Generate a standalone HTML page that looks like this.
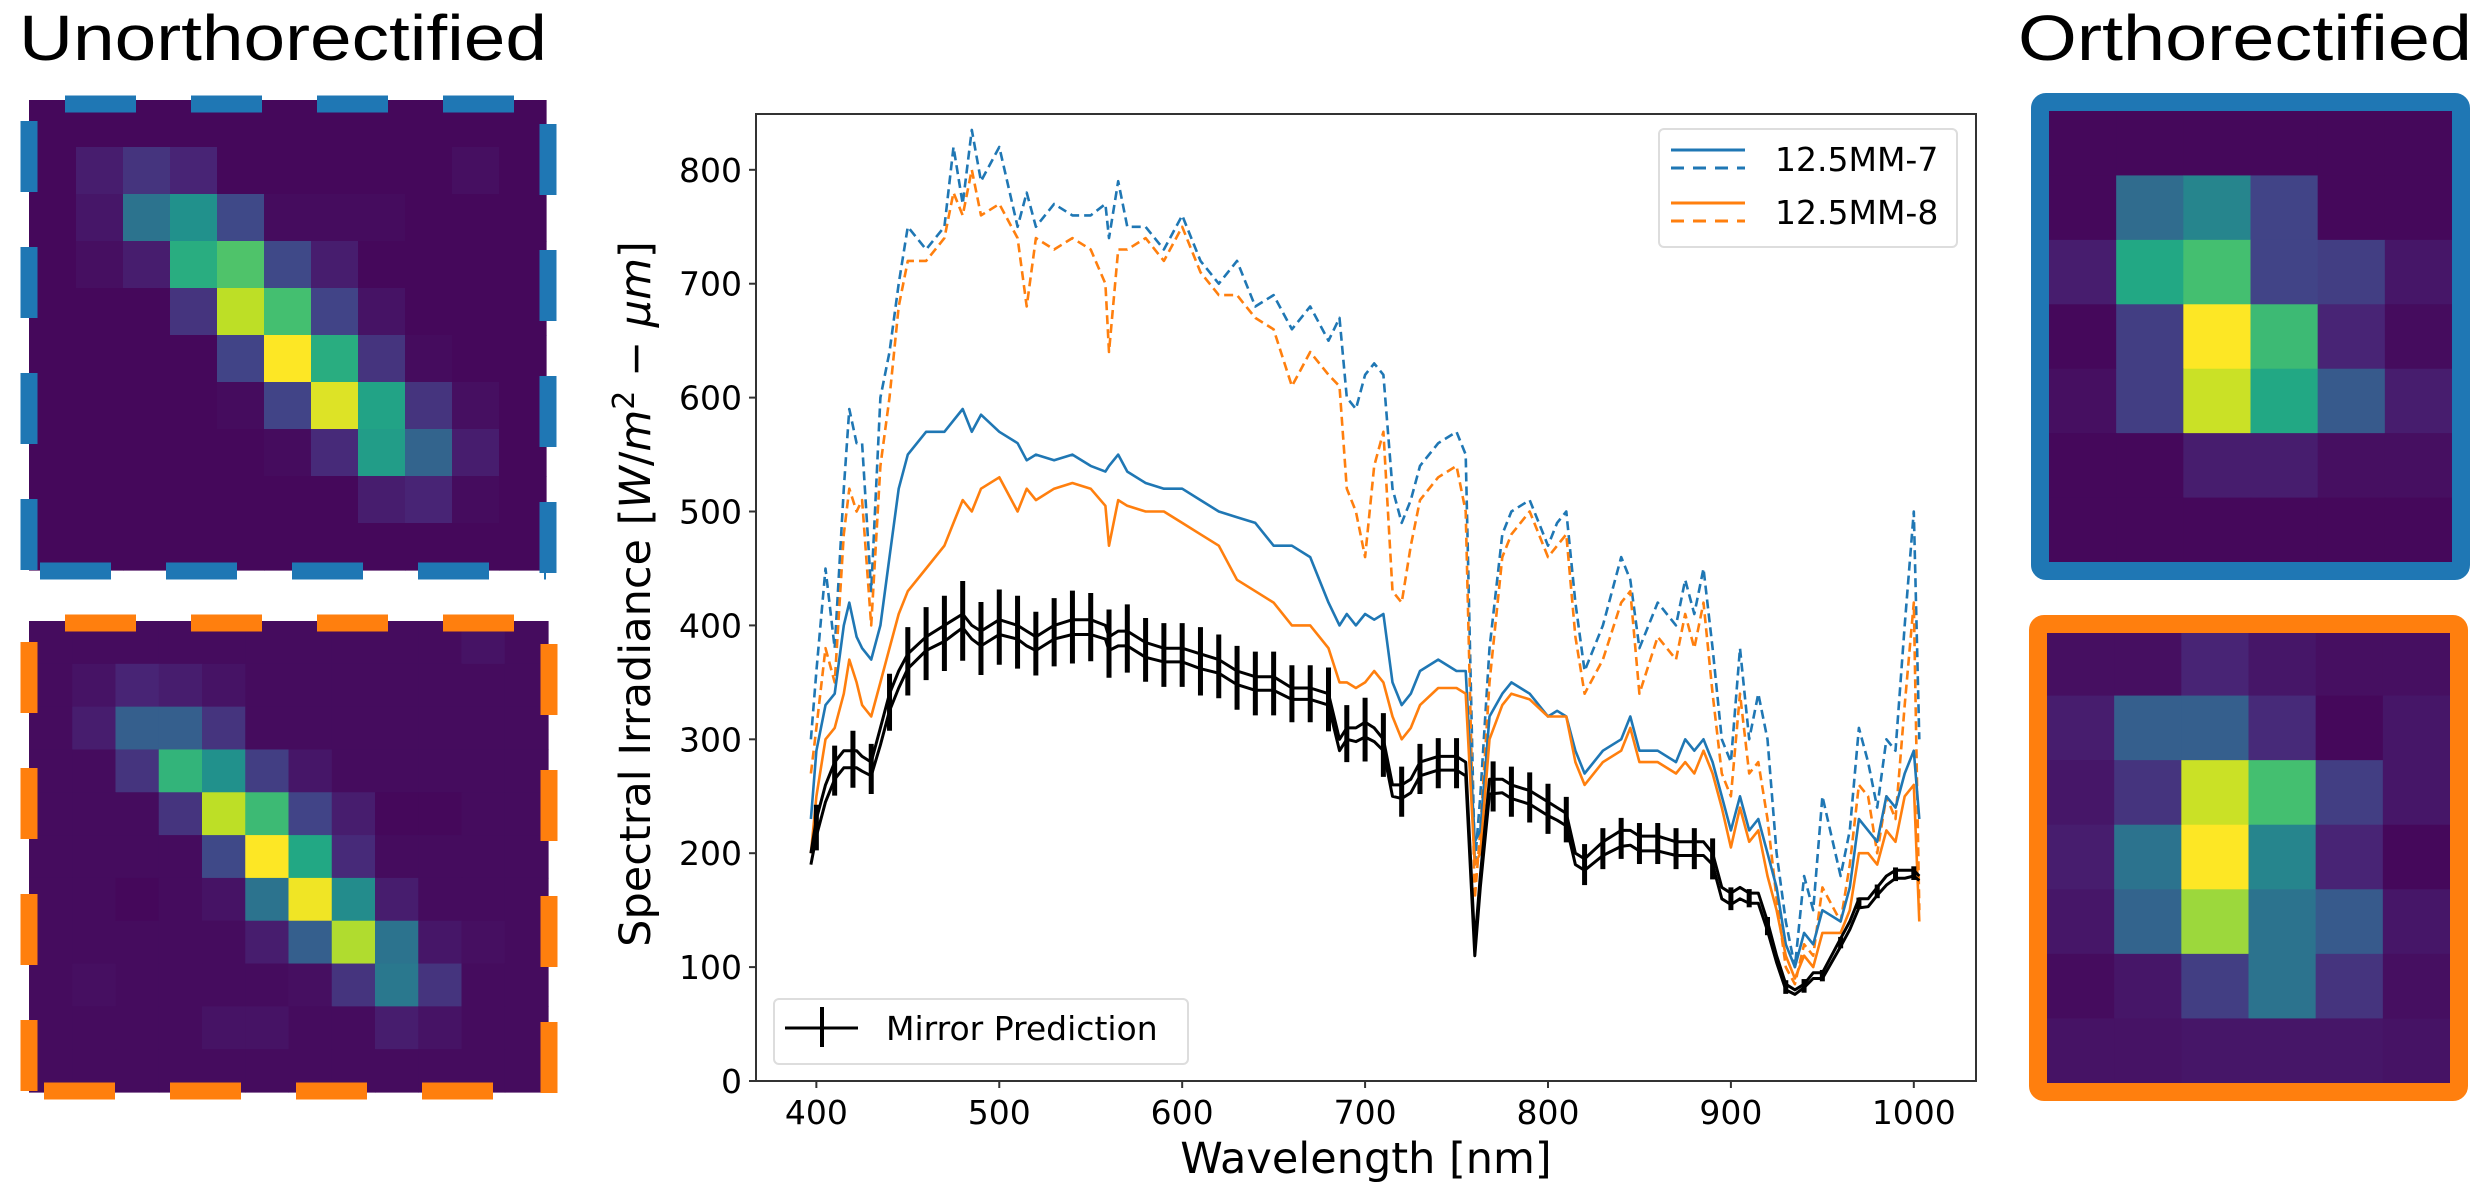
<!DOCTYPE html>
<html><head><meta charset="utf-8">
<style>
html,body{margin:0;padding:0;background:#fff;}
svg{display:block;}
text{font-family:"DejaVu Sans","Liberation Sans",sans-serif;}
</style></head>
<body>
<svg id="root" width="2484" height="1200" viewBox="0 0 2484 1200" xmlns="http://www.w3.org/2000/svg">
  <rect x="0" y="0" width="2484" height="1200" fill="#fff"/>
  <text x="19" y="60" font-size="64" textLength="528" lengthAdjust="spacingAndGlyphs" style="font-family:'Liberation Sans',sans-serif">Unorthorectified</text>
  <text x="2018" y="60" font-size="64" textLength="454" lengthAdjust="spacingAndGlyphs" style="font-family:'Liberation Sans',sans-serif">Orthorectified</text>
  <g id="heatmaps"></g>
  <g id="chart"></g>
</svg>
<script>
// ---------- heatmap data ----------
const heatUnorthoBlue = [
 [0.02,0.02,0.02,0.02,0.02,0.02,0.02,0.02,0.02,0.02,0.02],
 [0.02,0.08,0.15,0.1,0.02,0.02,0.02,0.02,0.02,0.04,0.02],
 [0.02,0.06,0.38,0.5,0.22,0.03,0.03,0.03,0.02,0.02,0.02],
 [0.02,0.04,0.08,0.62,0.72,0.22,0.08,0.02,0.02,0.02,0.02],
 [0.02,0.02,0.02,0.15,0.9,0.7,0.2,0.05,0.02,0.02,0.02],
 [0.02,0.02,0.02,0.02,0.2,1.0,0.62,0.15,0.03,0.02,0.02],
 [0.02,0.02,0.02,0.02,0.03,0.2,0.95,0.58,0.15,0.04,0.02],
 [0.02,0.02,0.02,0.02,0.02,0.03,0.12,0.55,0.32,0.08,0.02],
 [0.02,0.02,0.02,0.02,0.02,0.02,0.02,0.08,0.1,0.03,0.02],
 [0.02,0.02,0.02,0.02,0.02,0.02,0.02,0.02,0.02,0.02,0.02]
];
const heatUnorthoOrange = [
 [0.03,0.03,0.03,0.03,0.03,0.03,0.03,0.03,0.03,0.03,0.05,0.03],
 [0.03,0.05,0.1,0.08,0.05,0.03,0.03,0.03,0.03,0.03,0.03,0.03],
 [0.03,0.08,0.3,0.3,0.15,0.03,0.03,0.03,0.03,0.03,0.03,0.03],
 [0.03,0.03,0.15,0.65,0.5,0.18,0.06,0.03,0.03,0.03,0.03,0.03],
 [0.03,0.03,0.03,0.15,0.9,0.68,0.2,0.08,0.02,0.02,0.03,0.03],
 [0.03,0.03,0.03,0.03,0.22,1.0,0.6,0.12,0.03,0.03,0.03,0.03],
 [0.03,0.03,0.02,0.03,0.05,0.38,0.98,0.48,0.08,0.03,0.03,0.03],
 [0.03,0.03,0.03,0.03,0.03,0.08,0.3,0.88,0.38,0.06,0.04,0.03],
 [0.03,0.04,0.03,0.03,0.03,0.03,0.04,0.15,0.4,0.15,0.03,0.03],
 [0.03,0.03,0.03,0.03,0.05,0.05,0.03,0.03,0.08,0.05,0.03,0.03],
 [0.03,0.03,0.03,0.03,0.03,0.03,0.03,0.03,0.03,0.03,0.03,0.03]
];
const heatOrthoBlue = [
 [0.02,0.02,0.02,0.02,0.02,0.02],
 [0.02,0.35,0.45,0.2,0.02,0.02],
 [0.08,0.6,0.7,0.2,0.18,0.06],
 [0.02,0.18,1.0,0.68,0.1,0.03],
 [0.04,0.18,0.92,0.6,0.28,0.08],
 [0.02,0.02,0.08,0.08,0.04,0.04],
 [0.02,0.02,0.02,0.02,0.02,0.02]
];
const heatOrthoOrange = [
 [0.04,0.04,0.1,0.06,0.04,0.04],
 [0.08,0.3,0.3,0.12,0.02,0.06],
 [0.06,0.15,0.92,0.7,0.18,0.06],
 [0.08,0.38,1.0,0.45,0.1,0.02],
 [0.06,0.32,0.85,0.38,0.28,0.06],
 [0.03,0.06,0.18,0.38,0.15,0.04],
 [0.05,0.05,0.06,0.06,0.06,0.05]
];

// ---------- chart data ----------
const wavelengths = [397,400,405,410,415,418,422,425,430,435,440,445,450,460,470,475,480,485,490,500,510,515,520,530,540,550,558,560,565,570,580,590,600,610,620,630,640,650,660,670,680,686,690,695,700,705,710,715,720,725,730,740,750,755,760,763,768,775,780,790,800,805,810,815,820,830,840,845,850,860,870,875,880,885,890,895,900,905,910,915,920,925,930,935,940,945,950,960,965,970,975,980,985,990,995,1000,1003];
const blueDashed = [300,360,450,380,520,590,560,560,430,600,640,700,750,730,750,820,770,835,790,820,750,780,750,770,760,760,770,740,790,750,750,730,760,720,700,720,680,690,660,680,650,670,600,590,620,630,620,520,490,510,540,560,570,550,190,250,380,480,500,510,470,490,500,420,360,400,460,440,380,420,400,440,410,450,380,300,280,380,300,340,300,200,140,100,180,150,250,180,220,310,280,240,300,290,400,500,300];
const orangeDashed = [270,310,380,350,480,520,500,510,400,540,600,680,720,720,740,780,760,800,760,770,740,680,740,730,740,730,700,640,730,730,740,720,750,710,690,690,670,660,610,640,620,610,520,500,460,540,570,430,420,470,510,530,540,500,160,220,350,460,480,500,460,470,480,390,340,370,420,430,340,390,370,410,380,420,340,270,250,340,270,280,230,160,100,85,120,110,170,140,190,260,250,200,250,230,330,420,150];
const blueSolid = [230,290,330,340,400,420,390,380,370,400,460,520,550,570,570,580,590,570,585,570,560,545,550,545,550,540,535,540,550,535,525,520,520,510,500,495,490,470,470,460,420,400,410,400,410,405,410,350,330,340,360,370,360,360,210,220,320,340,350,340,320,325,320,290,270,290,300,320,290,290,280,300,290,300,280,250,220,250,220,230,200,170,120,100,130,120,150,140,170,230,220,210,250,240,270,290,230];
const orangeSolid = [200,250,300,310,340,370,350,330,320,350,380,410,430,450,470,490,510,500,520,530,500,520,510,520,525,520,505,470,510,505,500,500,490,480,470,440,430,420,400,400,380,350,350,345,350,360,350,320,300,310,330,345,345,340,190,200,300,330,340,335,320,320,320,280,260,280,290,310,280,280,270,280,270,290,270,240,205,240,210,220,180,150,110,90,110,100,130,130,150,200,200,190,220,210,250,260,140];
const mirrorUpper = [200,230,260,280,290,290,290,285,280,310,340,360,375,390,400,405,410,400,395,405,400,395,390,400,405,405,400,390,395,395,385,380,380,375,370,360,355,355,345,345,340,300,310,310,315,310,300,260,260,265,280,285,285,280,120,180,265,265,260,255,245,240,235,200,195,210,220,220,215,215,210,210,210,210,200,170,165,170,165,165,140,110,85,80,85,95,95,125,140,160,160,170,180,185,185,185,180];
const mirrorLower = [190,215,245,265,275,275,275,272,268,295,325,345,362,378,386,392,398,388,382,392,388,382,378,388,392,392,388,378,382,382,372,368,368,362,358,348,343,343,335,335,330,290,300,298,302,298,290,250,248,253,268,273,273,268,110,170,252,253,248,243,233,229,224,190,185,198,206,207,202,202,198,198,198,198,190,160,155,160,156,156,132,104,80,76,82,90,90,118,133,152,153,163,172,178,178,180,176];
const errorX = [400,410,420,430,440,450,460,470,480,490,500,510,520,530,540,550,560,570,580,590,600,610,620,630,640,650,660,670,680,690,700,710,720,730,740,750,770,780,790,800,810,820,830,840,850,860,870,880,890,900,910,920,930,940,950,960,970,980,990,1000];
const errorHalf = [20,22,25,22,25,30,32,33,35,32,33,32,28,30,32,30,30,30,28,28,28,30,28,28,28,28,25,25,28,25,28,28,22,22,22,22,22,22,22,22,20,18,18,18,18,18,18,18,18,10,8,8,6,6,5,5,5,6,6,6];
const yTicks = [0,100,200,300,400,500,600,700,800];
const xTicks = [400,500,600,700,800,900,1000];

const NS = "http://www.w3.org/2000/svg";
function mk(tag, attrs, parent){
  const e = document.createElementNS(NS, tag);
  for (const k in attrs) e.setAttribute(k, attrs[k]);
  if (parent) parent.appendChild(e);
  return e;
}
const stops = ["#440154","#482475","#414487","#355f8d","#2a788e","#21918c","#22a884","#44bf70","#7ad151","#bddf26","#fde725"];
function hex2rgb(h){return [parseInt(h.substr(1,2),16),parseInt(h.substr(3,2),16),parseInt(h.substr(5,2),16)];}
function viridis(v){
  v = Math.max(0, Math.min(1, v));
  const p = v * 10, i = Math.min(9, Math.floor(p)), t = p - i;
  const a = hex2rgb(stops[i]), b = hex2rgb(stops[i+1]);
  return "rgb(" + a.map((c,j)=>Math.round(c + (b[j]-c)*t)).join(",") + ")";
}

const hm = document.getElementById("heatmaps");
function drawHeat(grid, x0, y0, x1, y1, name){
  const g = mk("g", {}, hm);
  
  
  const rows = grid.length, cols = grid[0].length;
  const cw = (x1 - x0) / cols, ch = (y1 - y0) / rows;
  for (let r = 0; r < rows; r++) for (let c = 0; c < cols; c++) {
    const cell = mk("rect", {x: x0 + c*cw, y: y0 + r*ch, width: cw + 0.6, height: ch + 0.6, fill: viridis(grid[r][c])}, g);
    
    
  }
  return g;
}
function dashedBorder(g, color, top, left, bottom, right, x0, x1, y0, y1){
  const st = {stroke: color, "stroke-width": 17, "stroke-dasharray": "71 55", fill: "none"};
  mk("line", Object.assign({x1: top[0], y1: top[1], x2: x1, y2: top[1]}, st), g);
  mk("line", Object.assign({x1: left[0], y1: left[1], x2: left[0], y2: y1}, st), g);
  mk("line", Object.assign({x1: bottom[0], y1: bottom[1], x2: x1, y2: bottom[1]}, st), g);
  mk("line", Object.assign({x1: right[0], y1: right[1], x2: right[0], y2: y1}, st), g);
}
// unortho blue
let g1 = drawHeat(heatUnorthoBlue, 29, 100, 546, 570, "unorthorectified-heatmap-blue");
dashedBorder(g1, "#1f77b4", [65,104], [29,121], [40,571], [548,124], 0, 546, 0, 580);
// unortho orange
let g2 = drawHeat(heatUnorthoOrange, 29, 621, 548, 1092, "unorthorectified-heatmap-orange");
dashedBorder(g2, "#ff7f0e", [65,623], [29,642], [44,1091], [549,644], 0, 548, 0, 1100);
// ortho blue
let g3 = drawHeat(heatOrthoBlue, 2049, 111, 2452, 562, "orthorectified-heatmap-blue");
mk("rect", {x: 2040, y: 102, width: 421, height: 469, rx: 6, fill: "none", stroke: "#1f77b4", "stroke-width": 18}, g3);
// ortho orange
let g4 = drawHeat(heatOrthoOrange, 2047, 631, 2450, 1083, "orthorectified-heatmap-orange");
mk("rect", {x: 2038, y: 624, width: 421, height: 468, rx: 6, fill: "none", stroke: "#ff7f0e", "stroke-width": 18}, g4);

// ---------- chart ----------
const chart = document.getElementById("chart");
const AX = {l: 756, r: 1976, t: 114, b: 1081};
const X0 = 367, X1 = 1034, Y0 = 0, Y1 = 849;
function xs(v){ return AX.l + (v - X0) / (X1 - X0) * (AX.r - AX.l); }
function ys(v){ return AX.b - (v - Y0) / (Y1 - Y0) * (AX.b - AX.t); }
const clip = mk("clipPath", {id: "plotclip"}, chart);
mk("rect", {x: AX.l, y: AX.t, width: AX.r - AX.l, height: AX.b - AX.t}, clip);

function series(vals, color, dash, width, name){
  const d = wavelengths.map((w,i)=>(i ? "L" : "M") + xs(w).toFixed(1) + "," + ys(vals[i]).toFixed(1)).join("");
  const p = mk("path", {d: d, fill: "none", stroke: color, "stroke-width": width, "stroke-linejoin": "round", "clip-path": "url(#plotclip)"}, chart);
  if (dash) p.setAttribute("stroke-dasharray", dash);
  
  
}
series(blueDashed, "#1f77b4", "9 5", 2.6, "series-12-5mm-7-dashed");
series(orangeDashed, "#ff7f0e", "9 5", 2.6, "series-12-5mm-8-dashed");
series(blueSolid, "#1f77b4", null, 2.6, "series-12-5mm-7-solid");
series(orangeSolid, "#ff7f0e", null, 2.6, "series-12-5mm-8-solid");
series(mirrorUpper, "#000", null, 3, "mirror-prediction-upper");
series(mirrorLower, "#000", null, 3, "mirror-prediction-lower");

function interp(arr, w){
  for (let i = 0; i < wavelengths.length - 1; i++) {
    if (w >= wavelengths[i] && w <= wavelengths[i+1]) {
      const t = (w - wavelengths[i]) / (wavelengths[i+1] - wavelengths[i]);
      return arr[i] + (arr[i+1] - arr[i]) * t;
    }
  }
  return arr[arr.length-1];
}
const eg = mk("g", {}, chart);


errorX.forEach((w,i)=>{
  const c = (interp(mirrorUpper, w) + interp(mirrorLower, w)) / 2;
  const ln = mk("line", {x1: xs(w), x2: xs(w), y1: ys(c - errorHalf[i]), y2: ys(c + errorHalf[i]), stroke: "#000", "stroke-width": 5}, eg);
  
  
});

// axes frame
const frame = mk("rect", {x: AX.l, y: AX.t, width: AX.r - AX.l, height: AX.b - AX.t, fill: "none", stroke: "#333", "stroke-width": 2}, chart);



// ticks
yTicks.forEach(v=>{
  mk("line", {x1: AX.l - 7, x2: AX.l, y1: ys(v), y2: ys(v), stroke: "#333", "stroke-width": 2}, chart);
  const t = mk("text", {x: AX.l - 14, y: ys(v) + 12, "font-size": 33, "text-anchor": "end", fill: "#000"}, chart);
  t.textContent = v;
  
  
});
xTicks.forEach(v=>{
  mk("line", {x1: xs(v), x2: xs(v), y1: AX.b, y2: AX.b + 7, stroke: "#333", "stroke-width": 2}, chart);
  const t = mk("text", {x: xs(v), y: AX.b + 43, "font-size": 33, "text-anchor": "middle", fill: "#000"}, chart);
  t.textContent = v;
  
  
});

// axis titles
const xt = mk("text", {x: 1366, y: 1173, "font-size": 43, "text-anchor": "middle"}, chart);
xt.textContent = "Wavelength [nm]";


const yt = mk("text", {x: 0, y: 0, "font-size": 43, "text-anchor": "middle", transform: "translate(650,594) rotate(-90)"}, chart);


yt.innerHTML = 'Spectral Irradiance [<tspan font-style="italic">W</tspan>/<tspan font-style="italic">m</tspan><tspan font-size="30" dy="-16">2</tspan><tspan dy="16"> − </tspan><tspan font-style="italic">μm</tspan>]';

// legend top-right
const lg = mk("g", {}, chart);


mk("rect", {x: 1659, y: 129, width: 298, height: 118, rx: 5, fill: "#fff", "fill-opacity": 0.85, stroke: "#ddd", "stroke-width": 2}, lg);
mk("line", {x1: 1671, x2: 1745, y1: 150, y2: 150, stroke: "#1f77b4", "stroke-width": 3}, lg);
mk("line", {x1: 1671, x2: 1745, y1: 168, y2: 168, stroke: "#1f77b4", "stroke-width": 3, "stroke-dasharray": "13 9"}, lg);
mk("line", {x1: 1671, x2: 1745, y1: 203, y2: 203, stroke: "#ff7f0e", "stroke-width": 3}, lg);
mk("line", {x1: 1671, x2: 1745, y1: 221, y2: 221, stroke: "#ff7f0e", "stroke-width": 3, "stroke-dasharray": "13 9"}, lg);
const l1 = mk("text", {x: 1775, y: 171, "font-size": 33}, lg);
l1.textContent = "12.5MM-7";


const l2 = mk("text", {x: 1775, y: 224, "font-size": 33}, lg);
l2.textContent = "12.5MM-8";



// legend bottom-left
const lg2 = mk("g", {}, chart);


mk("rect", {x: 774, y: 999, width: 414, height: 65, rx: 5, fill: "#fff", "fill-opacity": 0.85, stroke: "#ddd", "stroke-width": 2}, lg2);
mk("line", {x1: 785, x2: 858, y1: 1028, y2: 1028, stroke: "#000", "stroke-width": 3}, lg2);
mk("line", {x1: 822, x2: 822, y1: 1007, y2: 1047, stroke: "#000", "stroke-width": 4}, lg2);
const l3 = mk("text", {x: 886, y: 1040, "font-size": 33}, lg2);
l3.textContent = "Mirror Prediction";


</script>
</body></html>
